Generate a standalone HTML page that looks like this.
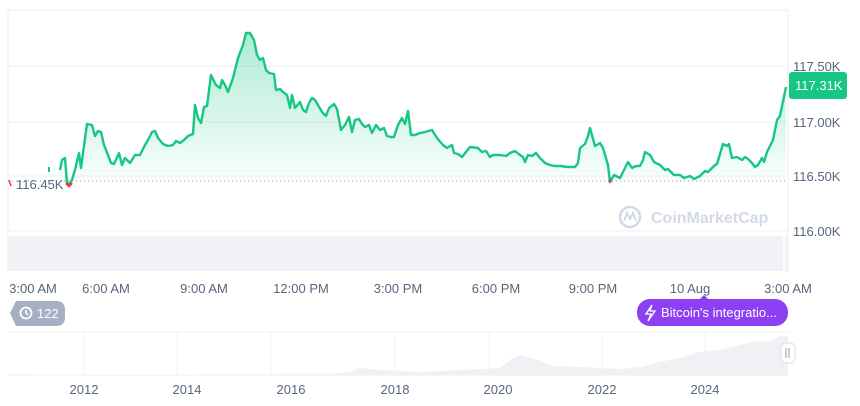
<!DOCTYPE html>
<html><head><meta charset="utf-8"><style>
body{margin:0;width:860px;height:401px;background:#fff;overflow:hidden;font-family:"Liberation Sans",sans-serif}
</style></head><body>
<svg width="860" height="401" xmlns="http://www.w3.org/2000/svg" font-family="Liberation Sans, sans-serif">
<defs>
<linearGradient id="g" x1="0" y1="0" x2="0" y2="1">
<stop offset="0" stop-color="#16c784" stop-opacity="0.35"/>
<stop offset="1" stop-color="#16c784" stop-opacity="0.02"/>
</linearGradient>
</defs>
<line x1="8" y1="10" x2="788" y2="10" stroke="#eee"/>
<line x1="788" y1="10" x2="788" y2="272" stroke="#eee"/>
<line x1="8" y1="10" x2="8" y2="272" stroke="#eee"/>
<line x1="8" y1="66" x2="788" y2="66" stroke="#f0f0f0"/>
<line x1="8" y1="122" x2="788" y2="122" stroke="#f0f0f0"/>
<line x1="8" y1="176" x2="788" y2="176" stroke="#f0f0f0"/>
<line x1="8" y1="231" x2="788" y2="231" stroke="#f0f0f0"/>
<rect x="8" y="236" width="775" height="35" fill="#f1f2f5"/>
<rect x="785" y="236" width="2" height="35" fill="#f1f2f5"/>
<path d="M60,170 L62,160 65,158 67,183 69,184 72,180 75,170 79,153 81,168 87,124 92,125 95,136 98,131 101,132 104,145 108,155 111,163 114,164 119,153 122,165 125,158 130,163 135,155 140,155 145,145 148,140 152,132 155,131 158,138 163,144 168,146 173,145 176,141 180,143 184,140 188,136 193,134 195,105 198,118 201,123 204,107 207,106 211,75 216,85 220,88 222,80 225,85 228,92 233,78 238,58 243,45 246,33 250,33 254,40 257,55 260,60 263,58 266,70 269,73 274,74 276,90 280,89 283,92 287,95 290,108 292,95 295,108 300,102 303,110 306,112 309,103 312,98 315,100 318,105 322,112 326,116 329,108 334,104 337,109 341,130 345,125 349,117 352,132 355,120 359,119 362,124 365,127 369,125 372,133 376,125 380,130 384,128 387,136 391,137 394,137 398,125 402,118 405,124 408,111 411,135 415,135 420,133 425,132 432,130 437,138 443,145 447,148 452,145 454,153 458,154 462,157 470,147 478,148 482,152 486,151 490,157 493,155 500,155 506,156 510,153 515,151 520,155 523,157 525,162 528,155 532,156 536,153 540,158 545,163 550,165 555,166 560,166 568,167 575,167 578,163 580,148 585,144 588,136 590,128 595,146 600,143 603,148 608,165 610,182 614,175 620,178 624,170 628,162 632,168 636,166 640,166 643,160 645,152 650,155 654,162 660,165 665,170 668,169 674,175 680,175 684,178 690,176 694,179 700,176 705,171 708,172 715,165 717,164 723,144 727,146 729,144 732,158 737,157 742,160 745,157 748,159 752,163 755,167 758,165 762,158 764,162 767,152 773,140 777,120 780,116 786,87 L786,182 L60,182 Z" fill="url(#g)"/>
<path d="M60,170 L62,160 65,158 67,183 69,184 72,180 75,170 79,153 81,168 87,124 92,125 95,136 98,131 101,132 104,145 108,155 111,163 114,164 119,153 122,165 125,158 130,163 135,155 140,155 145,145 148,140 152,132 155,131 158,138 163,144 168,146 173,145 176,141 180,143 184,140 188,136 193,134 195,105 198,118 201,123 204,107 207,106 211,75 216,85 220,88 222,80 225,85 228,92 233,78 238,58 243,45 246,33 250,33 254,40 257,55 260,60 263,58 266,70 269,73 274,74 276,90 280,89 283,92 287,95 290,108 292,95 295,108 300,102 303,110 306,112 309,103 312,98 315,100 318,105 322,112 326,116 329,108 334,104 337,109 341,130 345,125 349,117 352,132 355,120 359,119 362,124 365,127 369,125 372,133 376,125 380,130 384,128 387,136 391,137 394,137 398,125 402,118 405,124 408,111 411,135 415,135 420,133 425,132 432,130 437,138 443,145 447,148 452,145 454,153 458,154 462,157 470,147 478,148 482,152 486,151 490,157 493,155 500,155 506,156 510,153 515,151 520,155 523,157 525,162 528,155 532,156 536,153 540,158 545,163 550,165 555,166 560,166 568,167 575,167 578,163 580,148 585,144 588,136 590,128 595,146 600,143 603,148 608,165 610,182 614,175 620,178 624,170 628,162 632,168 636,166 640,166 643,160 645,152 650,155 654,162 660,165 665,170 668,169 674,175 680,175 684,178 690,176 694,179 700,176 705,171 708,172 715,165 717,164 723,144 727,146 729,144 732,158 737,157 742,160 745,157 748,159 752,163 755,167 758,165 762,158 764,162 767,152 773,140 777,120 780,116 786,87"
 fill="none" stroke="#16c784" stroke-width="2.4" stroke-linejoin="round"/>
<line x1="49" y1="167" x2="49" y2="172" stroke="#16c784" stroke-width="2"/>
<line x1="8" y1="181" x2="788" y2="181" stroke="#999" stroke-dasharray="1,3"/>
<path d="M66,183 L69,186 72,183" stroke="#ea3943" stroke-width="2.5" fill="none"/>
<circle cx="610" cy="181" r="1.5" fill="#ea3943"/>
<path d="M9,180 L11,186" stroke="#ea3943" stroke-width="1.5"/>
<text x="16" y="189" font-size="13" fill="#58667e">116.45K</text>
<g fill="#58667e" font-size="13">
<text x="793" y="71">117.50K</text>
<text x="793" y="127">117.00K</text>
<text x="793" y="181">116.50K</text>
<text x="793" y="236">116.00K</text>
</g>
<rect x="789" y="72" width="58" height="27" rx="3" fill="#16c784"/>
<text x="795" y="90" font-size="13" fill="#fff">117.31K</text>
<g opacity="0.9">
<circle cx="630" cy="217" r="10" fill="none" stroke="#cfd6e4" stroke-width="2.5"/>
<path d="M624,221 L627,213 630,219 633,213 636,221" fill="none" stroke="#cfd6e4" stroke-width="2"/>
<text x="651" y="223" font-size="16" font-weight="bold" fill="#cfd6e4">CoinMarketCap</text>
</g>
<g fill="#58667e" font-size="13" text-anchor="middle">
<text x="33" y="293">3:00 AM</text>
<text x="106" y="293">6:00 AM</text>
<text x="204" y="293">9:00 AM</text>
<text x="301" y="293">12:00 PM</text>
<text x="398" y="293">3:00 PM</text>
<text x="496" y="293">6:00 PM</text>
<text x="593" y="293">9:00 PM</text>
<text x="690" y="293">10 Aug</text>
<text x="788" y="293">3:00 AM</text>
</g>
<path d="M16,301 L56,301 Q65,301 65,310 L65,317 Q65,326 56,326 L16,326 L10,313 Z" fill="#a6b0c3"/>
<circle cx="26" cy="313" r="5.5" fill="none" stroke="#fff" stroke-width="1.8"/>
<path d="M26,310 L26,313 28,315" stroke="#fff" stroke-width="1.5" fill="none"/>
<text x="37" y="318" font-size="13" fill="#fff">122</text>
<rect x="637" y="299" width="151" height="27" rx="13" fill="#8c3ff3"/>
<path d="M700,299 L704,295 708,299 Z" fill="#8c3ff3"/>
<path d="M652,305 L646,314 651,314 648,321 655,311 650,311 Z" fill="none" stroke="#fff" stroke-width="1.3"/>
<text x="661" y="317" font-size="13" fill="#fff">Bitcoin's integratio...</text>
<line x1="8" y1="332" x2="790" y2="332" stroke="#f0f0f0"/>
<line x1="8" y1="375" x2="790" y2="375" stroke="#eee"/>
<g stroke="#f0f0f0">
<line x1="84" y1="332" x2="84" y2="375"/><line x1="177" y1="332" x2="177" y2="375"/>
<line x1="271" y1="332" x2="271" y2="375"/><line x1="395" y1="332" x2="395" y2="375"/>
<line x1="489" y1="332" x2="489" y2="375"/><line x1="602" y1="332" x2="602" y2="375"/>
<line x1="705" y1="332" x2="705" y2="375"/>
</g>
<path d="M8,375 L330,374 350,372 360,368 380,370 420,372 460,370 500,368 510,360 520,355 535,359 545,363 555,366 600,368 620,369 640,367 660,362 680,358 700,352 720,350 740,345 755,341 770,342 780,336 788,336 L788,375 Z" fill="#f0f1f4"/>
<rect x="781" y="343" width="14" height="20" rx="5" fill="#fff" stroke="#ddd"/>
<line x1="786" y1="348" x2="786" y2="358" stroke="#999"/><line x1="789" y1="348" x2="789" y2="358" stroke="#999"/>
<g fill="#58667e" font-size="13" text-anchor="middle">
<text x="84" y="394">2012</text><text x="187" y="394">2014</text><text x="291" y="394">2016</text>
<text x="395" y="394">2018</text><text x="498" y="394">2020</text><text x="602" y="394">2022</text>
<text x="705" y="394">2024</text>
</g>
</svg>
</body></html>
